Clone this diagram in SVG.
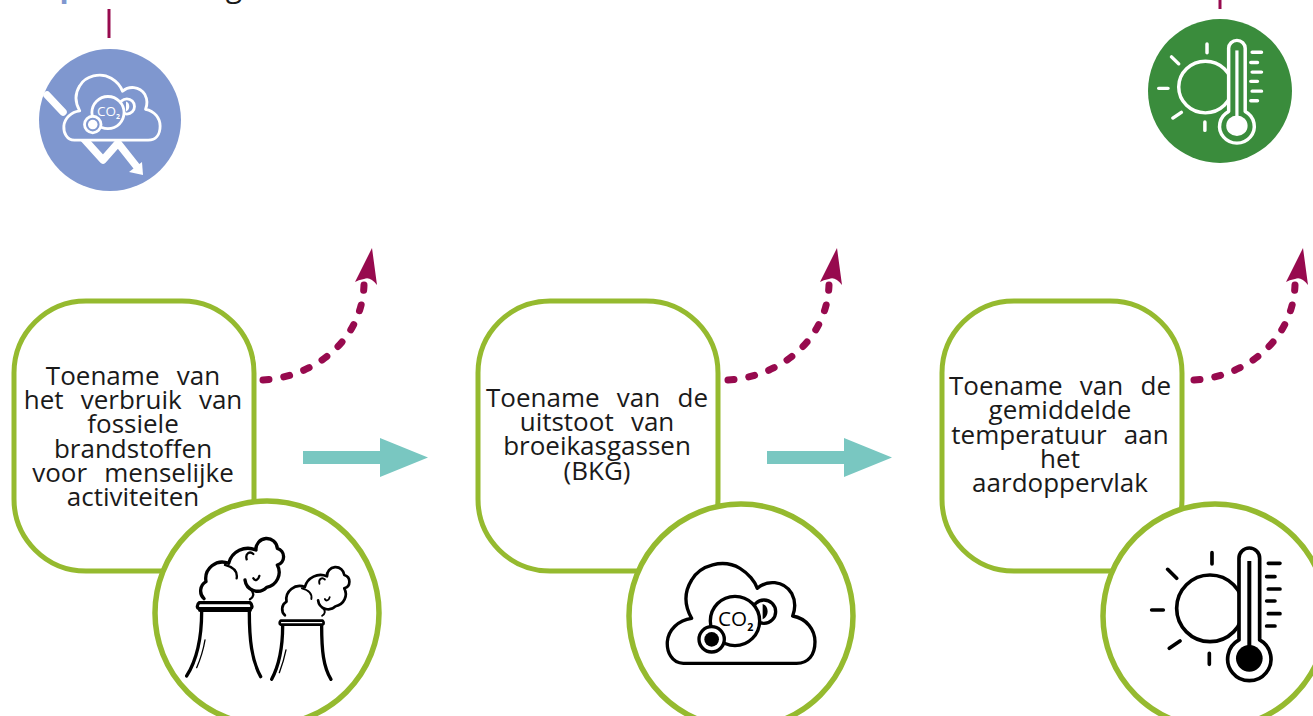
<svg xmlns="http://www.w3.org/2000/svg" xmlns:xlink="http://www.w3.org/1999/xlink" width="1313" height="716" viewBox="0 0 1313 716">
<style>
.box{fill:#fff;stroke:#95ba2f;stroke-width:5}
.ring{fill:#fff;stroke:#95ba2f;stroke-width:5.500}
.t{font-family:"Open Sans","Noto Sans",sans-serif;font-size:26px;fill:#1a1a1a;text-anchor:middle;word-spacing:10.500px}
.teal{fill:#79c7c1}
.dash{fill:none;stroke:#970a4e;stroke-width:7;stroke-linecap:round;stroke-dasharray:6 15}
.head{fill:#970a4e}
.tick{stroke:#970a4e;stroke-width:3;fill:none}
.ic{fill:none;stroke-linecap:round;stroke-linejoin:round}
.co{font-family:"Open Sans","Noto Sans",sans-serif;text-anchor:middle;stroke:none}
</style>
<defs>
<g id="cloud" stroke-linejoin="round" stroke-linecap="round">
<path d="M190 490C155 490 140 455 142 425C145 390 175 360 215 355C195 320 190 280 215 240C240 195 310 175 360 205C385 220 405 245 412 265C440 240 490 240 515 280C528 305 525 330 518 348C560 355 585 390 585 425C585 465 565 490 530 490Z"/>
<circle cx="432" cy="335" r="35"/>
<path d="M428 312C448 318 448 350 428 358Z" fill="currentColor" stroke="none"/>
<circle cx="345" cy="363" r="74"/>
<circle cx="275" cy="418" r="38"/>
<circle cx="275" cy="418" r="22" fill="currentColor" stroke="none"/>
<text class="co" x="338" y="378" font-size="62" font-weight="500" fill="currentColor">CO</text>
<text class="co" x="391" y="394" font-size="32" font-weight="700" fill="currentColor">2</text>
</g>
<g id="thermo" stroke-linecap="round" stroke-linejoin="round">
<circle cx="345" cy="325" r="100"/>
<path d="M351 158V192M218 208L245 235M170 330H205M223 445L255 423M343 460V493M520 190H555M515 230H540M520 267H555M515 303H540M520 341H555M515 378H540" fill="none"/>
<path d="M432 420V175A31 31 0 0 1 494 175V420A65 65 0 1 1 432 420Z"/>
<rect x="457" y="183" width="12" height="260" fill="currentColor" stroke="none"/>
<circle cx="463" cy="475" r="40" fill="currentColor" stroke="none"/>
</g>
<g id="smoke">
<path d="M162 296A32 32 0 0 1 168 245A50 50 0 0 1 236 190A60 60 0 0 1 318 150A32 32 0 0 1 382 145A26 26 0 0 1 382 195A46 46 0 0 1 350 262A38 38 0 0 1 285 240"/>
<path d="M225 195C255 203 263 218 260 235M290 178C285 160 300 152 310 162M310 235C315 245 325 240 328 228M302 268C315 280 310 292 300 298" stroke-width="7"/>
</g>
<g id="curl"><path class="dash" d="M263 380C315 377 362 340 364 285"/><path class="head" d="M372 248L377 285Q370 276 364 279Q358 280 355 282Z"/></g>
</defs>

<g id="top-marks">
<text x="69" y="-3" font-family="'Open Sans',sans-serif" font-size="30" font-weight="700" fill="#7f97cf" text-anchor="middle">p</text>
<text x="234" y="-3" font-family="'Open Sans',sans-serif" font-size="30" fill="#1a1a1a" text-anchor="middle">g</text>
</g>

<g id="connectors">
<path class="tick" d="M109 9V38"/>
<path class="tick" d="M1220 0V9"/>
<path class="teal" d="M303 451H380V438L428 457.500L380 477V464H303Z"/>
<path class="teal" d="M767 451H844V438L892 457.500L844 477V464H767Z"/>
<use href="#curl" id="dash1"/>
<use href="#curl" id="dash2" transform="translate(465)"/>
<use href="#curl" id="dash3" transform="translate(931)"/>
</g>

<g id="icon-co2-down">
<circle cx="110" cy="120" r="71" fill="#7f97cf"/>
<path class="ic" stroke="#fff" stroke-width="7.500" d="M47 95L63 112M84 139L103 160L118 143L137 167"/>
<path fill="#fff" d="M142 162L143 175L129 172Z"/>
<use href="#cloud" transform="translate(33 33.700) scale(.2173)" fill="#7f97cf" stroke="#fff" stroke-width="13" color="#fff"/>
</g>

<g id="icon-thermo-green">
<circle cx="1220" cy="91" r="72" fill="#3a8c3c"/>
<use href="#thermo" transform="translate(1113.300 3.200) scale(.267 .258)" fill="#3a8c3c" stroke="#fff" stroke-width="13" color="#fff"/>
</g>

<g id="node-1">
<rect class="box" x="14" y="301" width="240" height="270" rx="72"/>
<text class="t" x="133" y="385">Toename van</text>
<text class="t" x="133" y="409">het verbruik van</text>
<text class="t" x="133" y="433">fossiele</text>
<text class="t" x="133" y="458">brandstoffen</text>
<text class="t" x="133" y="482">voor menselijke</text>
<text class="t" x="133" y="506">activiteiten</text>
<circle class="ring" cx="267" cy="613" r="112"/>
<g transform="translate(150 500) scale(.3333)" class="ic" stroke="#000" stroke-width="10">
<path d="M148 308H300C308 314 308 324 300 326H148C140 324 140 314 148 308Z"/>
<path d="M150 330H300" stroke-width="12"/>
<path d="M155 335C155 420 140 480 110 528M298 335C298 420 305 480 332 530"/>
<path d="M165 420C160 450 150 480 140 503" stroke-width="4"/>
<use href="#smoke"/>
<path d="M392 362H518C522 366 522 372 518 374H392C388 372 388 366 392 362Z" stroke-width="8"/>
<path d="M398 378C398 450 385 500 365 538M515 378C515 450 520 500 543 538"/>
<path d="M408 450C402 480 395 500 388 518" stroke-width="4"/>
<use href="#smoke" transform="translate(273.500 109) scale(.81 .8)"/>
</g>
</g>

<g id="node-2">
<rect class="box" x="478" y="301" width="240" height="270" rx="72"/>
<text class="t" x="597" y="407">Toename van de</text>
<text class="t" x="597" y="431">uitstoot van</text>
<text class="t" x="597" y="455">broeikasgassen</text>
<text class="t" x="597" y="480">(BKG)</text>
<circle class="ring" cx="741" cy="616" r="112"/>
<use href="#cloud" transform="translate(620 500) scale(.3333)" fill="#fff" stroke="#000" stroke-width="10" color="#000"/>
</g>

<g id="node-3">
<rect class="box" x="942" y="301" width="240" height="270" rx="72"/>
<text class="t" x="1060" y="395">Toename van de</text>
<text class="t" x="1060" y="419">gemiddelde</text>
<text class="t" x="1060" y="444">temperatuur aan</text>
<text class="t" x="1060" y="468">het</text>
<text class="t" x="1060" y="492">aardoppervlak</text>
<circle class="ring" cx="1215" cy="616" r="112"/>
<use href="#thermo" transform="translate(1095 500) scale(.3333)" fill="#fff" stroke="#000" stroke-width="11" color="#000"/>
</g>
</svg>
